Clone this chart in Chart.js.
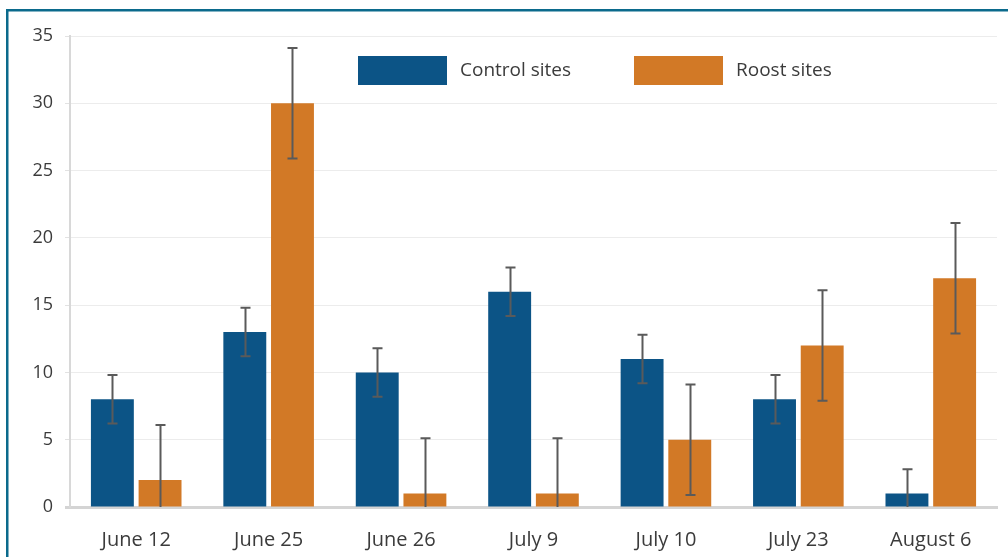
<!DOCTYPE html>
<html>
<head>
<meta charset="utf-8">
<script src="https://cdn.jsdelivr.net/npm/chart.js@4.4.1/dist/chart.umd.min.js"></script>
<style>
  html, body { margin: 0; padding: 0; background: #ffffff; }
  #wrap { width: 1008px; height: 557px; position: relative; }
</style>
</head>
<body>
<div id="wrap"><canvas id="c" width="1008" height="557"></canvas></div>
<script>
// Survey dates
const categories = ['June 12', 'June 25', 'June 26', 'July 9', 'July 10', 'July 23', 'August 6'];

// Mean counts and error half-widths per date
const controlValues = [8, 13, 10, 16, 11, 8, 1];
const controlErrors = [1.8, 1.8, 1.8, 1.8, 1.8, 1.8, 1.8];
const roostValues = [2, 30, 1, 1, 5, 12, 17];
const roostErrors = [4.1, 4.1, 4.1, 4.1, 4.1, 4.1, 4.1];

// Value axis
const yTicks = [0, 5, 10, 15, 20, 25, 30, 35];

const FONT = '"Open Sans", "Noto Sans", sans-serif';
const TEXT = '#3b3b3b';
const BLUE = '#0c5486';
const ORANGE = '#d27926';

// Whiskers with end caps, placed with the value scale
const errorBars = {
  id: 'errorBars',
  afterDatasetsDraw(chart) {
    const { ctx, chartArea, scales } = chart;
    const y = scales.y;
    ctx.save();
    ctx.beginPath();
    ctx.rect(chartArea.left, chartArea.top - 20, chartArea.right - chartArea.left, chartArea.bottom - chartArea.top + 20);
    ctx.clip();
    ctx.strokeStyle = '#5a5a5a';
    ctx.lineWidth = 2;
    chart.data.datasets.forEach((ds, di) => {
      const meta = chart.getDatasetMeta(di);
      meta.data.forEach((bar, i) => {
        const v = ds.data[i], e = ds.errors[i];
        const top = y.getPixelForValue(v + e);
        const bot = y.getPixelForValue(v - e);
        const x = Math.round(bar.x) + 0.5;
        ctx.beginPath();
        ctx.moveTo(x, top); ctx.lineTo(x, bot);
        ctx.moveTo(x - 5, top); ctx.lineTo(x + 5, top);
        if (v - e >= 0) { ctx.moveTo(x - 5, bot); ctx.lineTo(x + 5, bot); }
        ctx.stroke();
      });
    });
    ctx.restore();
  }
};

// Legend swatches inside the plot area, plus the framing rule
const legendAndFrame = {
  id: 'legendAndFrame',
  afterDraw(chart) {
    const { ctx } = chart;
    ctx.save();
    ctx.fillStyle = '#0b6a8c';
    ctx.fillRect(6, 9, 1002, 2.5);
    ctx.fillRect(6, 9, 2.5, 548);

    const starts = [358, 634];
    ctx.font = '19px ' + FONT;
    ctx.textBaseline = 'middle';
    chart.data.datasets.forEach((ds, i) => {
      const x0 = starts[i];
      ctx.fillStyle = ds.backgroundColor;
      ctx.fillRect(x0, 56, 89, 29);
      ctx.fillStyle = TEXT;
      ctx.fillText(ds.label, x0 + 102, 71);
    });
    ctx.restore();
  }
};

new Chart(document.getElementById('c'), {
  type: 'bar',
  data: {
    labels: categories,
    datasets: [
      { label: 'Control sites', data: controlValues, errors: controlErrors, backgroundColor: BLUE,
        categoryPercentage: 0.72, barPercentage: 0.9 },
      { label: 'Roost sites', data: roostValues, errors: roostErrors, backgroundColor: ORANGE,
        categoryPercentage: 0.72, barPercentage: 0.9 }
    ]
  },
  options: {
    responsive: false,
    animation: false,
    devicePixelRatio: 1,
    layout: { padding: { left: 0, top: 36, right: 11, bottom: 0 } },
    plugins: { legend: { display: false }, tooltip: { enabled: false } },
    scales: {
      x: {
        z: 1,
        grid: { display: false, drawTicks: false },
        border: { display: true, color: '#d4d4d4', width: 3 },
        ticks: { color: TEXT, font: { family: FONT, size: 20 }, padding: 21 },
        afterFit(scale) { scale.height = 50; }
      },
      y: {
        min: 0, max: 35,
        afterBuildTicks(scale) { scale.ticks = yTicks.map(v => ({ value: v })); },
        grid: { color: '#ececec', lineWidth: 1, drawTicks: true, tickLength: 5,
                tickColor: (c) => c.tick && c.tick.value === 0 ? '#d4d4d4' : '#e2e2e2',
                tickWidth: (c) => c.tick && c.tick.value === 0 ? 3 : 1 },
        border: { display: true, color: '#d8d8d8', width: 2 },
        ticks: { color: TEXT, font: { family: FONT, size: 18 }, padding: 12 },
        afterFit(scale) { scale.width = 70; }
      }
    }
  },
  plugins: [errorBars, legendAndFrame]
});
</script>
</body>
</html>
